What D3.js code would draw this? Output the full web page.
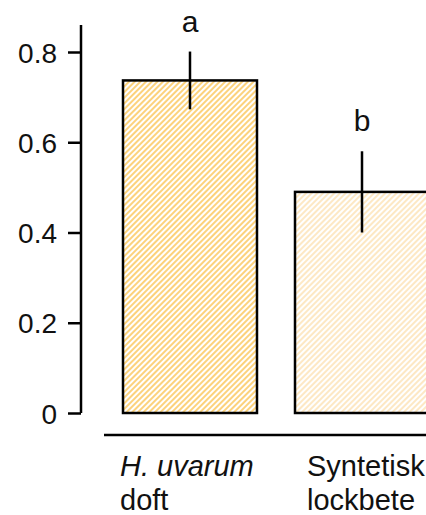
<!DOCTYPE html>
<html><head>
<meta charset="UTF-8">
<script src="https://cdn.jsdelivr.net/npm/d3@7"></script>
<style>
  body { margin: 0; background: #fff; }
  svg { font-family: "Liberation Sans", Arial, sans-serif; }
</style>
</head>
<body>
<div id="chart"></div>
<script>
// data
const groups = ["uvarum", "synt"];
const labelLine1 = ["H. uvarum", "Syntetisk"];
const labelLine2 = ["doft", "lockbete"];
const italic1 = [true, false];
const means = [0.737, 0.49];
const errs = [0.064, 0.09];
const letters = ["a", "b"];
const yTicks = [0, 0.2, 0.4, 0.6, 0.8];
const tickLabels = ["0", "0.2", "0.4", "0.6", "0.8"];
const fills = ["#fcd27c", "#fde8c4"];

const W = 426, H = 515;
const svg = d3.select("#chart").append("svg")
  .attr("width", W).attr("height", H);

const y = d3.scaleLinear().domain([0, 0.8]).range([413, 52]);
const x = d3.scaleBand().domain(groups).range([123, 429]).paddingInner(0.221).paddingOuter(0);

// hatch patterns
const defs = svg.append("defs");
fills.forEach((c, i) => {
  const p = defs.append("pattern")
    .attr("id", "hatch" + i)
    .attr("patternUnits", "userSpaceOnUse")
    .attr("width", 4).attr("height", 4)
    .attr("patternTransform", "rotate(45)");
  p.append("rect").attr("width", 4).attr("height", 4).attr("fill", "#fff");
  p.append("rect").attr("width", 2).attr("height", 4).attr("fill", c);
});

// y axis
const yAxis = d3.axisLeft(y).tickValues(yTicks)
  .tickFormat((d, i) => tickLabels[i]).tickSize(13).tickPadding(11);
const gy = svg.append("g").attr("transform", "translate(81,0)").call(yAxis);
gy.attr("font-size", null).attr("font-family", null);
gy.select(".domain").attr("d", "M0,25V413").attr("stroke", "#000").attr("stroke-width", 2.5);
gy.selectAll(".tick line").attr("stroke-width", 2.5);
gy.selectAll(".tick text").style("font-size", "28px").attr("fill", "#111").attr("dy", "0.36em");

// bars
svg.selectAll("rect.bar").data(groups).enter().append("rect")
  .attr("class", "bar")
  .attr("x", d => x(d))
  .attr("y", (d, i) => y(means[i]))
  .attr("width", x.bandwidth())
  .attr("height", (d, i) => y(0) - y(means[i]))
  .attr("fill", (d, i) => "url(#hatch" + i + ")")
  .attr("stroke", "#000").attr("stroke-width", 2.5);

// error bars
svg.selectAll("line.err").data(groups).enter().append("line")
  .attr("class", "err")
  .attr("x1", d => x(d) + x.bandwidth() / 2)
  .attr("x2", d => x(d) + x.bandwidth() / 2)
  .attr("y1", (d, i) => y(means[i] + errs[i]))
  .attr("y2", (d, i) => y(means[i] - errs[i]))
  .attr("stroke", "#000").attr("stroke-width", 2.5);

// significance letters
svg.selectAll("text.letter").data(groups).enter().append("text")
  .attr("class", "letter")
  .attr("x", d => x(d) + x.bandwidth() / 2)
  .attr("y", (d, i) => y(means[i] + errs[i]) - 20)
  .attr("text-anchor", "middle")
  .style("font-size", "30px").attr("fill", "#111")
  .text((d, i) => letters[i]);

// x axis line
svg.append("line").attr("x1", 104).attr("x2", W).attr("y1", 435).attr("y2", 435)
  .attr("stroke", "#000").attr("stroke-width", 2.5);

// category labels
const lblX = [x(groups[0]) - 3, x(groups[1]) + 12];
groups.forEach((g, i) => {
  const t = svg.append("text").attr("x", lblX[i]).attr("y", 476)
    .style("font-size", "29px").attr("fill", "#111");
  t.append("tspan").attr("font-style", italic1[i] ? "italic" : "normal").text(labelLine1[i]);
  t.append("tspan").attr("x", lblX[i]).attr("dy", 34).text(labelLine2[i]);
});
</script>
</body></html>
